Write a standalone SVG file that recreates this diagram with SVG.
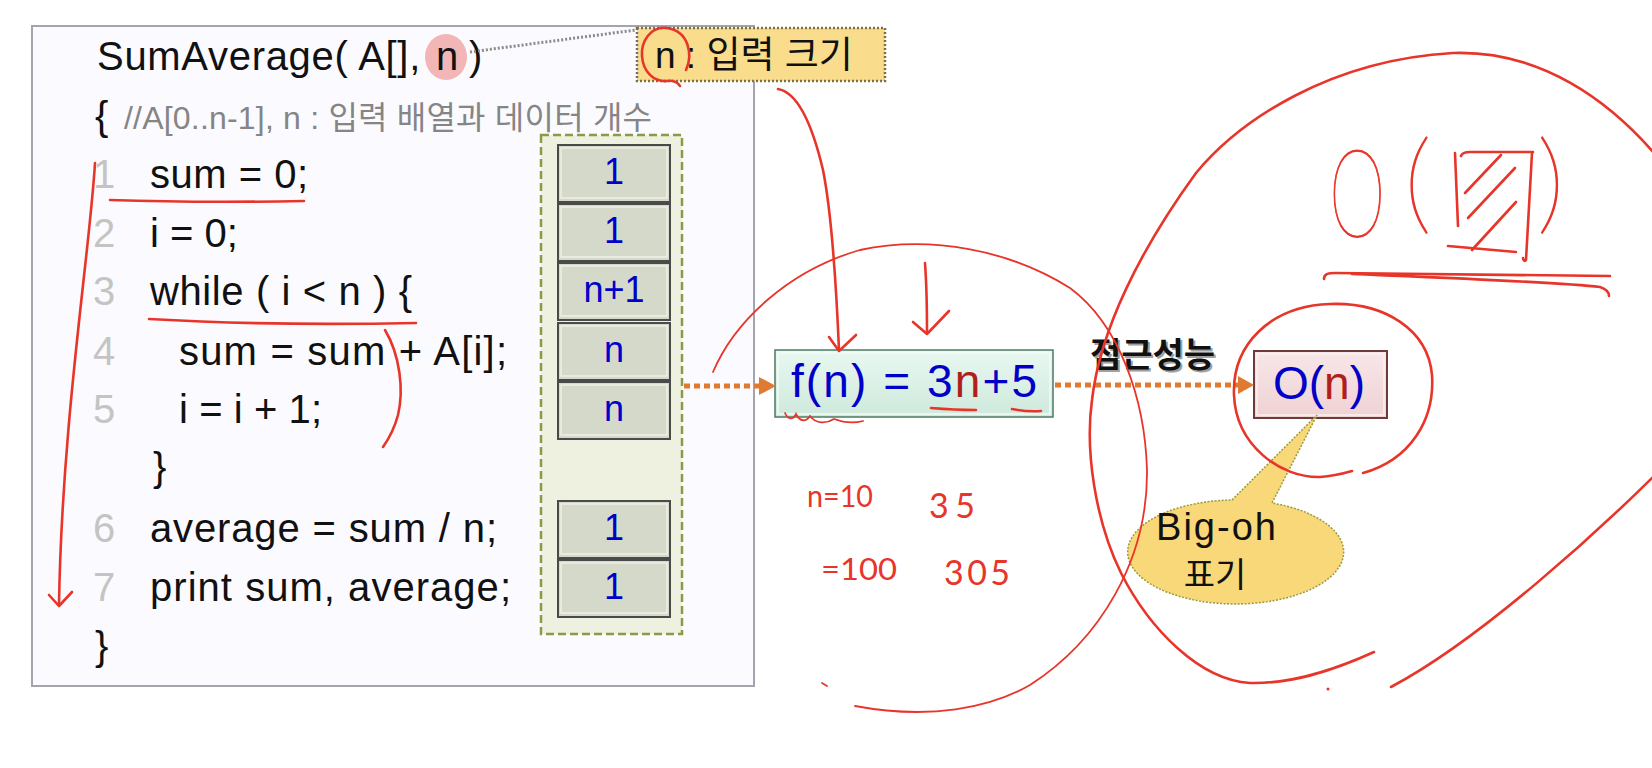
<svg xmlns="http://www.w3.org/2000/svg" width="1652" height="768" viewBox="0 0 1652 768">
<defs>
<style>
.code{font-family:'Liberation Sans','Noto Sans CJK KR',sans-serif;font-size:40px;fill:#111}
.num{font-family:'Liberation Sans',sans-serif;font-size:40px;fill:#c4c4c4}
.cmt{font-family:'Liberation Sans','Noto Sans CJK KR',sans-serif;font-size:32px;fill:#858585}
.cell{fill:#d5d9ca;stroke:#4a4a4a;stroke-width:2}
.cellhi{fill:none;stroke:#eef0e6;stroke-width:1.5}
.ctext{font-family:'Liberation Sans',sans-serif;font-size:36px;fill:#0000c8;text-anchor:middle}
.ink{fill:none;stroke:#e8352a;stroke-width:2.6;stroke-linecap:round;stroke-linejoin:round}
.inkthin{fill:none;stroke:#e8352a;stroke-width:1.8;stroke-linecap:round}
.hand{font-family:Lato,'Liberation Sans',sans-serif;fill:#e8352a}
.handbig{font-family:Lato,'Liberation Sans',sans-serif;fill:#e8352a;font-weight:100;stroke:#e8352a;stroke-width:1.2}
.dotarrow{fill:none;stroke:#e07a30;stroke-width:5;stroke-dasharray:6,4}
.kr{font-family:'Noto Sans CJK KR',sans-serif}
</style>
<linearGradient id="gf" x1="0" y1="0" x2="0" y2="1"><stop offset="0" stop-color="#e8f8f1"/><stop offset="1" stop-color="#cfe9dc"/></linearGradient>
<linearGradient id="go" x1="0" y1="0" x2="0" y2="1"><stop offset="0" stop-color="#f8e6e8"/><stop offset="1" stop-color="#efd2d4"/></linearGradient>
</defs>
<rect width="1652" height="768" fill="#ffffff"/>

<g id="code-panel">
<rect x="32" y="26" width="722" height="660" fill="#fbfbff" stroke="#a4a4ae" stroke-width="2"/>
<ellipse cx="446" cy="57" rx="21" ry="23" fill="#f2b6b6"/>
<text class="code" x="97" y="70"><tspan letter-spacing="0.7">SumAverage( A[], </tspan><tspan x="436">n </tspan><tspan x="469">)</tspan></text>
<text class="code" x="95" y="130">{</text>
<text class="cmt" x="124" y="129" textLength="528" lengthAdjust="spacing">//A[0..n-1], n : 입력 배열과 데이터 개수</text>
<text class="num" x="93" y="188">1</text><text class="code" x="150" y="188" textLength="158" lengthAdjust="spacing">sum = 0;</text>
<text class="num" x="93" y="247">2</text><text class="code" x="150" y="247">i = 0;</text>
<text class="num" x="93" y="305">3</text><text class="code" x="150" y="305" textLength="262" lengthAdjust="spacing">while ( i &lt; n ) {</text>
<text class="num" x="93" y="365">4</text><text class="code" x="179" y="365" textLength="328" lengthAdjust="spacing">sum = sum + A[i];</text>
<text class="num" x="93" y="423">5</text><text class="code" x="179" y="423" textLength="143" lengthAdjust="spacing">i = i + 1;</text>
<text class="code" x="153" y="481">}</text>
<text class="num" x="93" y="542">6</text><text class="code" x="150" y="542" textLength="347" lengthAdjust="spacing">average = sum / n;</text>
<text class="num" x="93" y="601">7</text><text class="code" x="150" y="601" textLength="361" lengthAdjust="spacing">print sum, average;</text>
<text class="code" x="95" y="660">}</text>
</g>

<g id="cost-column">
<rect x="541" y="135" width="141" height="499" fill="#eef1df" stroke="#8a9a45" stroke-width="2.5" stroke-dasharray="8,4"/>
<rect class="cell" x="558" y="145" width="112" height="57"/><rect class="cellhi" x="561" y="148" width="106" height="50"/><text class="ctext" x="614" y="184">1</text>
<rect class="cell" x="558" y="204" width="112" height="57"/><rect class="cellhi" x="561" y="207" width="106" height="50"/><text class="ctext" x="614" y="243">1</text>
<rect class="cell" x="558" y="263" width="112" height="57"/><rect class="cellhi" x="561" y="266" width="106" height="50"/><text class="ctext" x="614" y="302">n+1</text>
<rect class="cell" x="558" y="323" width="112" height="57"/><rect class="cellhi" x="561" y="326" width="106" height="50"/><text class="ctext" x="614" y="362">n</text>
<rect class="cell" x="558" y="382" width="112" height="57"/><rect class="cellhi" x="561" y="385" width="106" height="50"/><text class="ctext" x="614" y="421">n</text>
<rect class="cell" x="558" y="501" width="112" height="57"/><rect class="cellhi" x="561" y="504" width="106" height="50"/><text class="ctext" x="614" y="540">1</text>
<rect class="cell" x="558" y="560" width="112" height="57"/><rect class="cellhi" x="561" y="563" width="106" height="50"/><text class="ctext" x="614" y="599">1</text>
</g>

<g id="input-size-label">
<rect x="637" y="28" width="248" height="53" fill="#f9dc8c" stroke="#75705a" stroke-width="2.5" stroke-dasharray="2,2"/>
<text x="655" y="68" font-size="37" font-family="'Liberation Sans','Noto Sans CJK KR',sans-serif" fill="#111">n : 입력 크기</text>
</g>

<g id="fn-box">
<rect x="775" y="350" width="278" height="67" fill="url(#gf)" stroke="#4d7a63" stroke-width="1.5"/>
<rect x="778" y="353" width="272" height="61" fill="none" stroke="#f2fbf7" stroke-width="1.5"/>
<text x="791" y="397" font-size="46" font-family="'Liberation Sans',sans-serif" fill="#0000c8" textLength="246" lengthAdjust="spacing">f(n) = 3<tspan fill="#b0201a">n</tspan>+5</text>
</g>

<g id="bigo-box">
<rect x="1254" y="351" width="133" height="67" fill="url(#go)" stroke="#6e3b3b" stroke-width="2"/>
<rect x="1257" y="354" width="127" height="61" fill="none" stroke="#fbf0f1" stroke-width="1.5"/>
<text x="1273" y="399" font-size="46" font-family="'Liberation Sans',sans-serif" fill="#0000c8" textLength="92" lengthAdjust="spacing">O(<tspan fill="#b0201a">n</tspan>)</text>
</g>

<g id="bigoh-callout">
<path d="M1232,500 L1317,415 L1272,503 A108,52 0 1 1 1232,500 Z" fill="#f8d878" stroke="#9a9a40" stroke-width="1.5" stroke-dasharray="2,1.5"/>
<text x="1216" y="540" font-size="38" font-family="'Liberation Sans',sans-serif" fill="#111" text-anchor="middle" textLength="120" lengthAdjust="spacing">Big-oh</text>
<text x="1215" y="587" class="kr" font-size="34" fill="#111" text-anchor="middle">표기</text>
</g>

<g id="connectors">
<path d="M470,52 L636,30" stroke="#8a8a8a" stroke-width="3" stroke-dasharray="2,2" fill="none"/>
<path class="dotarrow" d="M684,386 L760,386"/>
<path d="M759,377 L776,386 L759,395 Z" fill="#e07a30"/>
<path class="dotarrow" d="M1055,385 L1240,385"/>
<path d="M1238,376 L1254,385 L1238,394 Z" fill="#e07a30"/>
<text x="1092" y="369" class="kr" font-size="34" font-weight="bold" fill="#a0a0a0">점근성능</text>
<text x="1090" y="367" class="kr" font-size="34" font-weight="bold" fill="#111">점근성능</text>
</g>

<g id="annotations">
<path class="ink" d="M686,70 C693,55 689,31 667,28 C650,26 641,42 642,56 C643,72 654,82 667,81 C674,80 678,83 680,86"/>
<path class="ink" d="M95,163 C90,250 62,420 59,605"/>
<path class="ink" d="M49,595 L59,606 L72,592"/>
<path class="ink" d="M110,200 Q200,203 304,201"/>
<path class="ink" d="M149,319 Q270,326 416,323"/>
<path class="ink" d="M385,330 C400,355 404,390 398,415 C394,430 388,440 383,447"/>
<path class="ink" d="M778,89 C795,92 810,115 823,170 C832,215 836,280 839,350"/>
<path class="ink" d="M829,337 L839,351 L856,335"/>
<path class="ink" d="M925,263 C927,290 927,315 927,333"/>
<path class="ink" d="M913,322 L927,334 L949,311"/>
<path class="ink" d="M931,408 Q955,410 976,410"/>
<path class="ink" d="M1012,409 Q1028,412 1041,411"/>
<path class="inkthin" d="M785,413 C788,420 793,420 796,414 C800,422 806,422 810,416 C816,424 826,424 834,419 C842,422 852,424 863,421"/>
<path class="inkthin" d="M713,372 C735,320 790,270 860,250 C930,235 1010,250 1070,288 C1120,325 1145,400 1147,470 C1148,560 1100,640 1030,685 C990,708 930,720 855,706"/>
<path class="inkthin" d="M822,683 L827,686"/>
<path class="ink" d="M1374,652 C1330,672 1290,684 1250,683 C1200,680 1150,630 1121,573 C1095,520 1085,450 1092,400 C1100,330 1140,250 1196,173 C1240,120 1330,60 1453,53 C1540,50 1610,100 1660,160"/>
<path class="ink" d="M1660,470 C1600,530 1480,640 1391,687"/>
<circle cx="1328" cy="689" r="1.5" fill="#e8352a"/>
<path class="ink" d="M1363,473 C1410,460 1435,420 1432,375 C1428,330 1385,302 1330,304 C1270,306 1232,345 1234,395 C1236,445 1280,478 1320,477 C1335,476 1345,473 1352,471"/>
<text class="hand" x="807" y="507" font-size="30" textLength="66" lengthAdjust="spacingAndGlyphs">n=10</text>
<text class="hand" x="929" y="518" font-size="34" textLength="46" lengthAdjust="spacing">35</text>
<text class="hand" x="821" y="580" font-size="30" textLength="76" lengthAdjust="spacingAndGlyphs">=100</text>
<text class="hand" x="944" y="585" font-size="34" textLength="66" lengthAdjust="spacing">305</text>
<text class="handbig" font-size="120" transform="translate(1329,237) scale(0.6,1.02)">O</text>
<text class="handbig" font-size="110" transform="translate(1404,220)">(</text>
<text class="handbig" font-size="110" transform="translate(1537,220)">)</text>
<path class="ink" d="M1461,156 C1462,153 1466,152 1470,152 L1533,152"/>
<path class="ink" d="M1455,153 L1458,226"/>
<path class="ink" d="M1532,153 L1526,260 C1525,262 1523,260 1523,258"/>
<path class="ink" d="M1448,246 L1516,252"/>
<path class="ink" d="M1465,193 L1501,155"/>
<path class="ink" d="M1468,218 L1515,168"/>
<path class="ink" d="M1472,250 L1516,202"/>
<path class="ink" d="M1324,279 C1324,274 1328,273 1335,273 L1610,276"/>
<path class="ink" d="M1352,274 C1450,278 1560,282 1600,287 C1606,289 1609,292 1609,296"/>
</g>
</svg>
